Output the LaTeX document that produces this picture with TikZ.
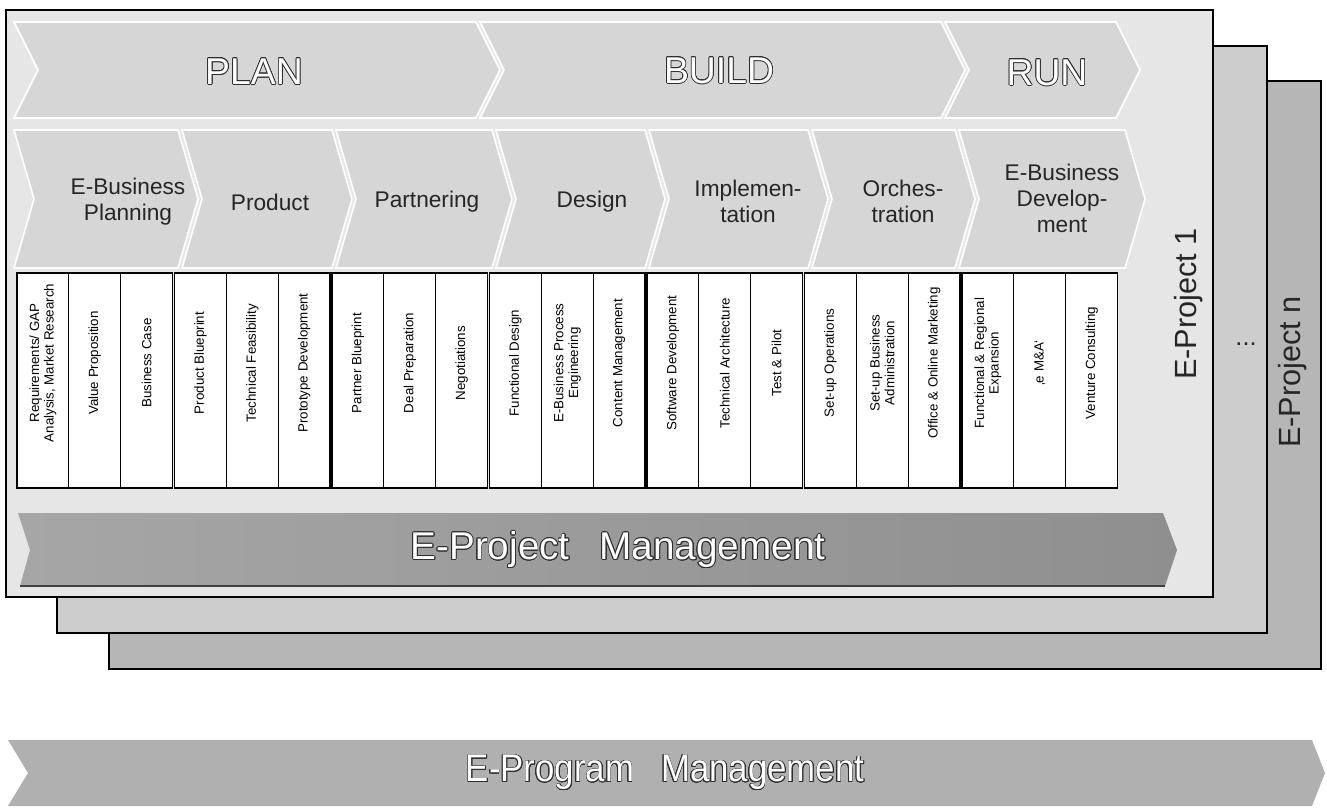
\documentclass[tikz,border=0pt]{standalone}
\usepackage{fontspec}
\setmainfont{Liberation Sans}
\usepackage{contour}
\contourlength{0.55pt}
\definecolor{fA}{HTML}{E6E6E6}
\definecolor{fB}{HTML}{CDCDCD}
\definecolor{fC}{HTML}{B6B6B6}
\definecolor{chev}{HTML}{D6D6D6}
\definecolor{pmbar}{HTML}{A6A6A6}
\definecolor{pmtip}{HTML}{8F8F8F}
\definecolor{pgbar}{HTML}{B0B0B0}
\definecolor{outl}{HTML}{2E2E2E}
\newcommand\chevron[5]{%
  \path[chevshape] (#1,#3) -- ({#2-#5},#3) -- (#2,{(#3+#4)/2}) -- ({#2-#5},#4)
    -- (#1,#4) -- ({#1+#5},{(#3+#4)/2}) -- cycle;}
\newcommand\celltxt[3]{\node[celltext] (#1) at (#2,363) {#3};}
\begin{document}
\begin{tikzpicture}[x=0.75pt,y=-0.75pt,
  frame/.style={draw=black,line width=1pt},
  chevshape/.style={fill=chev,draw=white,line width=1.2pt},
  cellgroup/.style={draw=black,line width=0.9pt,fill=white},
  celldiv/.style={draw=black,line width=0.6pt},
  celltext/.style={rotate=90,align=center,font=\fontsize{10}{11}\selectfont,inner sep=0pt},
  phase/.style={align=center,font=\fontsize{17}{19.5}\selectfont,text=black!85},
  title/.style={font=\fontsize{28}{30}\selectfont,inner sep=0pt,text=white},
  bartitle/.style={font=\fontsize{29}{31}\selectfont,inner sep=0pt,text=white},
  projlabel/.style={rotate=90,font=\fontsize{23}{25}\selectfont,inner sep=0pt,text=black!85},
]
\useasboundingbox (0,0) rectangle (1327,812);

% stacked project frames
\draw[frame,fill=fC] (109,81) rectangle (1321,669);
\draw[frame,fill=fB] (57,46) rectangle (1267,633);
\draw[frame,fill=fA] (6,10) rectangle (1213,597);

% row 1 chevrons
\chevron{14}{500}{22}{118}{24}
\chevron{480}{965}{22}{118}{24}
\chevron{945}{1140}{22}{118}{24}
\node[title] (plan) at (254,72) {\contour{outl}{PLAN}};
\node[title] (build) at (719,71) {\contour{outl}{BUILD}};
\node[title] (run) at (1047,73) {\contour{outl}{RUN}};

% row 2 chevrons
\chevron{14}{198}{130}{268}{20}
\chevron{182}{352}{130}{268}{20}
\chevron{336}{512}{130}{268}{20}
\chevron{496}{665}{130}{268}{20}
\chevron{649}{828}{130}{268}{20}
\chevron{812}{975}{130}{268}{20}
\chevron{959}{1145}{130}{268}{20}
\node[phase] (p1) at (128,202) {E-Business\\Planning};
\node[phase] (p2) at (270,202) {Product};
\node[phase] (p3) at (427,202) {Partnering};
\node[phase] (p4) at (592,202) {Design};
\node[phase] (p5) at (748,201) {Implemen-\\tation};
\node[phase] (p6) at (903,201) {Orches-\\tration};
\node[phase] (p7) at (1062,198) {E-Business\\Develop-\\ment};

% activity boxes
\foreach \k in {0,...,6}{
  \pgfmathsetmacro\L{17+157.5*\k}
  \draw[cellgroup] (\L,273) rectangle (\L+155.5,488);
  \draw[celldiv] (\L+51.83,273) -- (\L+51.83,488);
  \draw[celldiv] (\L+103.67,273) -- (\L+103.67,488);
}
\celltxt{a1}{42.9}{Requirements/ GAP\\Analysis, Market Research}
\celltxt{a2}{94.8}{Value Proposition}
\celltxt{a3}{146.6}{Business Case}
\celltxt{b1}{200.4}{Product Blueprint}
\celltxt{b2}{252.3}{Technical Feasibility}
\celltxt{b3}{304.1}{Prototype Development}
\celltxt{c1}{357.9}{Partner Blueprint}
\celltxt{c2}{409.8}{Deal Preparation}
\celltxt{c3}{461.6}{Negotiations}
\celltxt{d1}{515.4}{Functional Design}
\celltxt{d2}{567.3}{E-Business Process\\Engineering}
\celltxt{d3}{619.1}{Content Management}
\celltxt{e1}{672.9}{Software Development}
\celltxt{e2}{724.8}{Technical Architecture}
\celltxt{e3}{776.6}{Test \& Pilot}
\celltxt{f1}{830.4}{Set-up Operations}
\celltxt{f2}{882.3}{Set-up Business\\Administration}
\celltxt{f3}{934.1}{Office \& Online Marketing}
\celltxt{g1}{987.9}{Functional \& Regional\\Expansion}
\celltxt{g2}{1039.8}{‚e M\&A‘}
\celltxt{g3}{1091.6}{Venture Consulting}

% E-Project Management bar
\path[left color=pmbar,right color=pmtip] (18,513) -- (1163,513) -- (1177,550) -- (1165,586) -- (20,586) -- (30,550) -- cycle;
\draw[black!75,line width=0.9pt] (20,586) -- (1165,586);
\node[bartitle] (pm) at (618,550) {\contour{outl}{E-Project\hspace{0.5em} Management}};

% project labels
\node[projlabel] (ep1) at (1189,304) {E-Project 1};
\node[projlabel] (epn) at (1293,372) {E-Project n};
\node[font=\fontsize{19}{21}\selectfont,inner sep=0pt,text=black!85] (dots) at (1246,344) {...};

% E-Program Management bar
\path[fill=pgbar] (8,740) -- (1312,740) -- (1325,773) -- (1312,806) -- (8,806) -- (28,773) -- cycle;
\node[bartitle] (pg) at (665,773) {\scalebox{0.9}[1]{\contour{outl}{E-Program\hspace{0.5em} Management}}};
\end{tikzpicture}
\end{document}
